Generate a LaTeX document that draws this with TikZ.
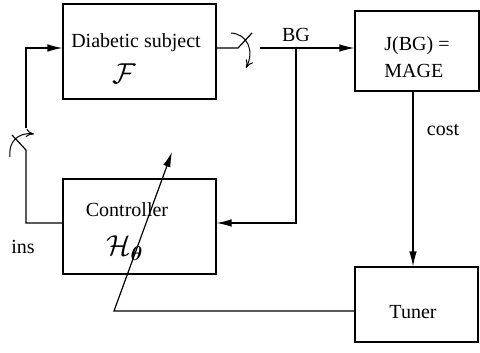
\documentclass[tikz,border=0pt]{standalone}
\usepackage{amsmath,bm}
\usepackage{fontspec}
\setmainfont{Liberation Serif}
\newfontfamily\timesfont{Liberation Serif}
\usetikzlibrary{arrows.meta}

\tikzset{
    every node/.style={font=\timesfont},
    blockbox/.style={draw, line width=0.6pt, minimum width=#1, inner sep=0pt},
    sig/.style={line width=0.6pt},
    sigarrow/.style={sig, -{Latex[length=7.5pt,width=3.8pt]}},
    turnarrow/.style={line width=0.5pt, -{To[length=4pt,width=4pt]}}
}

\begin{document}
\begin{tikzpicture}[x=0.5pt, y=-0.5pt]
    \useasboundingbox (0,0) rectangle (480,352);

    % Blocks
    \node[blockbox=76.5pt, minimum height=47.5pt] (dia) at (139.5,51.5) {};
    \node[blockbox=76.5pt, minimum height=47.5pt] (ctl) at (139.5,226.5) {};
    \node[blockbox=62pt, minimum height=40pt] (J) at (417,51) {};
    \node[blockbox=61.5pt, minimum height=37.5pt] (tun) at (416.5,304.5) {};

    % Block texts
    \node (diatext) at (136,43) {Diabetic subject};
    \node (diaF) at (124,74) {\Large $\mathcal{F}$};
    \node (ctltext) at (127,210) {Controller};
    \node (ctlH) at (125,248) {\Large $\mathcal{H}_{\bm{\theta}}$};
    \node[anchor=west, align=left, inner sep=0pt] (Jtext) at (384,57)
        {J(BG) =\\[1.5pt]MAGE};
    \node (tuntext) at (413,312) {Tuner};

    % Labels
    \node (bglabel) at (296,35) {BG};
    \node (costlabel) at (443,130) {cost};
    \node (inslabel) at (23,247) {ins};

    % Switch points
    \coordinate (sw1a) at (238,48);
    \coordinate (sw1b) at (260,48);
    \coordinate (tap) at (296,48);
    \coordinate (sw2a) at (26,150);
    \coordinate (sw2b) at (26,128);
    \coordinate (tunturn) at (114,311);
    \coordinate (tuntip) at (172,152);

    % Measured glucose
    \draw[sig] (dia.east |- sw1a) -- (sw1a) -- (252,33);
    \draw[sigarrow] (sw1b) -- (J.west |- sw1b);
    \draw[turnarrow] (231,33) .. controls (247,34) and (255,50) .. (246,68);

    % Feedback to controller
    \draw[sigarrow] (tap) -- (tap |- 0,223) -- (ctl.east |- 0,223);

    % Cost to tuner
    \draw[sigarrow] ([xshift=-2pt]J.south) -- ([xshift=-2pt]J.south |- tun.north);

    % Insulin back to subject
    \draw[sig] (ctl.west |- 0,223) -- (26,223) -- (sw2a) -- (12,135);
    \draw[sigarrow] (sw2b) -- (26,48) -- (dia.west |- 0,48);
    \draw[turnarrow] (10,157) .. controls (8,142) and (18,132) .. (34,134);

    % Tuning of the controller
    \draw[sigarrow] ([yshift=-3.25pt]tun.west) -- (tunturn) -- (tuntip);
\end{tikzpicture}
\end{document}
